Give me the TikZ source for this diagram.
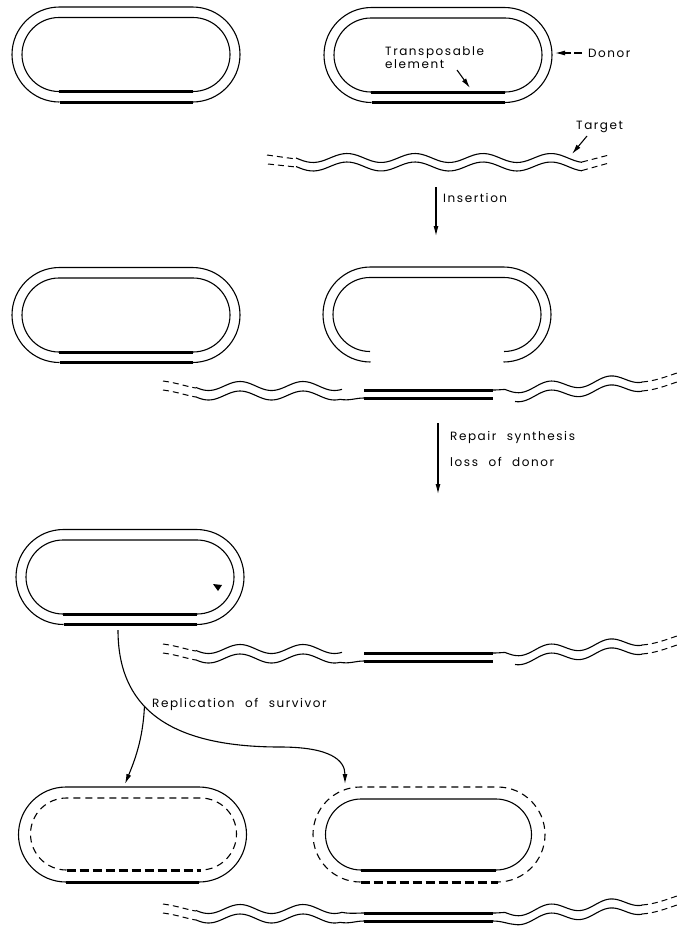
\documentclass[tikz,border=0pt]{standalone}
\usepackage{fontspec}
\setmainfont{Poppins}[LetterSpace=13,WordSpace=2.2]
\usetikzlibrary{arrows.meta}
\tikzset{
 strand/.style={line width=1.1pt},
 bar/.style={line width=3pt},
 dstrand/.style={line width=1.1pt, dash pattern=on 7pt off 5pt},
 dbar/.style={line width=3pt, dash pattern=on 9pt off 4pt},
 endash/.style={line width=1pt, dash pattern=on 6pt off 4pt},
 arr/.style={line width=1.1pt, -{Latex[length=10pt,width=5pt]}},
 lbl/.style={font=\fontsize{12}{14}\selectfont, inner sep=0pt, anchor=base west},
}
% open stadium (all but the bottom straight part): style, cx, cy, s, r
\newcommand{\stadtop}[5]{%
 \draw[#1] ({#2-#4},{#3+#5}) arc[start angle=90,end angle=270,radius=#5] -- ({#2+#4},{#3-#5}) arc[start angle=270,end angle=450,radius=#5];}
% bottom straight part
\newcommand{\stadbot}[5]{\draw[#1] ({#2-#4},{#3+#5}) -- ({#2+#4},{#3+#5});}
% target DNA row (base geometry at row 3); #1 = 0 gapped, 1 continuous
\newcommand{\targetrow}[1]{%
 \draw[endash] (163,644) .. controls (178,646) and (188,650) .. (196,651);
 \draw[endash] (163,653) .. controls (178,655) and (188,659) .. (196,660);
 \ifnum#1=0
 \draw[strand] plot[domain=196:342, samples=60, smooth] (\x, {649 - 4.5*cos(5.714*(\x-240))});
 \else
 \draw[strand] plot[domain=196:342, samples=60, smooth] (\x, {649 - 4.5*cos(5.714*(\x-240))})
   .. controls (350,654) and (356,653) .. (364,653);
 \fi
 \draw[strand] plot[domain=196:340, samples=60, smooth] (\x, {658.5 - 4.5*cos(5.714*(\x-240))})
   .. controls (350,664) and (355,661) .. (364,661);
 \draw[bar] (364,653) -- (493,653);
 \draw[bar] (364,661) -- (493,661);
 \draw[strand] (493,653) .. controls (498,653) and (501,652.6) .. (505,652.4)
   plot[domain=505:642, samples=60, smooth] (\x, {652 - 0.085*(\x-510) - 4.5*cos(6*(\x-550))});
 \ifnum#1=0
 \draw[strand] plot[domain=515:642, samples=60, smooth] (\x, {661 - 0.085*(\x-510) - 4.5*cos(6*(\x-550))});
 \else
 \draw[strand] (493,661) .. controls (502,661) and (508,664) .. (515,664.5)
   plot[domain=515:642, samples=60, smooth] (\x, {661 - 0.085*(\x-510) - 4.5*cos(6*(\x-550))});
 \fi
 \draw[endash] (642,645) .. controls (655,644) and (665,640) .. (677,636);
 \draw[endash] (642,654) .. controls (655,653) and (665,649) .. (677,645);
}
\begin{document}
\begin{tikzpicture}[x=1pt,y=-1pt]
\useasboundingbox (0,0) rectangle (679,927);

% ---------- Row 1 ----------
% left plasmid
\stadtop{strand}{126}{54.5}{66.5}{47.5}
\stadbot{bar}{126}{54.5}{66.5}{47.5}
\stadtop{strand}{126}{54.5}{67}{37}
\stadbot{bar}{126}{54.5}{67}{37}
% donor plasmid
\stadtop{strand}{438}{55}{66.5}{47.5}
\stadbot{bar}{438}{55}{66.5}{47.5}
\stadtop{strand}{438}{55}{67}{37}
\stadbot{bar}{438}{55}{67}{37}

\node[lbl] (te1) at (385,55) {Transposable};
\node[lbl] (te2) at (385,68) {element};
\coordinate (te-a) at (457,70);
\coordinate (te-b) at (470,88);
\draw[arr] (te-a) -- (te-b);

\node[lbl] (donor) at (588,57) {Donor};
\coordinate (dn-a) at (582,53);
\coordinate (dn-b) at (555,53);
\draw[arr, dash pattern=on 8pt off 3pt] (dn-a) -- (dn-b);

% target
\draw[strand] plot[domain=296:582, samples=80, smooth] (\x, {158 - 4.5*cos(5.294*(\x-347))});
\draw[strand] plot[domain=296:582, samples=80, smooth] (\x, {166.5 - 4.5*cos(5.294*(\x-347))});
\draw[endash] (267,155) -- (296,159);
\draw[endash] (268,164) -- (296,167);
\draw[endash] (582,162) -- (609,155);
\draw[endash] (582,170.5) -- (609,163);

\node[lbl] (target) at (576,129) {Target};
\coordinate (tg-a) at (587,136);
\coordinate (tg-b) at (572,154);
\draw[arr] (tg-a) -- (tg-b);

\node[lbl] (ins) at (443,202) {Insertion};
\coordinate (ins-a) at (436,187);
\coordinate (ins-b) at (436,236);
\draw[arr] (ins-a) -- (ins-b);

% ---------- Row 2 ----------
\stadtop{strand}{126}{315}{66.5}{47.5}
\stadbot{bar}{126}{315}{66.5}{47.5}
\stadtop{strand}{126}{315}{67}{37}
\stadbot{bar}{126}{315}{67}{37}
% opened donor
\stadtop{strand}{437}{314.5}{66.5}{47.5}
\stadtop{strand}{437}{314.5}{67}{37}

\begin{scope}[yshift=263pt]
\targetrow{0}
\end{scope}

\node[lbl] (rep1) at (450,440) {Repair synthesis};
\node[lbl] (rep2) at (450,466) {loss of donor};
\coordinate (rp-a) at (438,423);
\coordinate (rp-b) at (438,494);
\draw[arr] (rp-a) -- (rp-b);

% ---------- Row 3 ----------
\stadtop{strand}{130}{577}{66.5}{47.5}
\stadbot{bar}{130}{577}{66.5}{47.5}
\stadtop{strand}{130}{577}{67}{37}
\stadbot{bar}{130}{577}{67}{37}
\fill (213,584) -- (222,585) -- (218,591) -- cycle;

\targetrow{0}

% replication connectors
\coordinate (rs) at (118,630);
\coordinate (rm) at (280,747);
\coordinate (re) at (345,784);
\coordinate (bl) at (125,784);
\draw[strand] (rs) .. controls (118,705) and (165,747) .. (rm) coordinate[pos=0.42] (rb);
\draw[arr] (rm) .. controls (330,747) and (345,760) .. (re);
\draw[arr] (rb) .. controls (143,740) and (134,762) .. (bl);
\node[lbl] (repl) at (152,707) {Replication of survivor};

% ---------- Row 4 ----------
% left daughter: old outer strand solid, new inner strand dashed
\stadtop{strand}{132.5}{834.5}{66.5}{47.5}
\stadbot{bar}{132.5}{834.5}{66.5}{47.5}
\stadtop{dstrand}{133.5}{834}{67}{36}
\stadbot{dbar}{133.5}{834}{67}{36}
% right daughter: old inner strand solid, new outer strand dashed
\stadtop{dstrand}{429}{834.5}{68.5}{47.5}
\stadbot{dbar}{429}{834.5}{68.5}{47.5}
\stadtop{strand}{428.5}{834.5}{67.5}{35.5}
\stadbot{bar}{428.5}{834.5}{67.5}{35.5}

\begin{scope}[yshift=-260pt]
\targetrow{1}
\end{scope}
\end{tikzpicture}
\end{document}
